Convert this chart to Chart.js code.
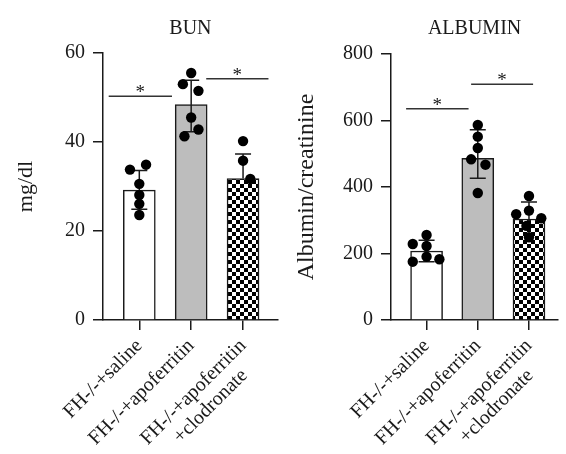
<!DOCTYPE html>
<html>
<head>
<meta charset="utf-8">
<script src="https://cdn.jsdelivr.net/npm/chart.js@4.4.0/dist/chart.umd.min.js"></script>
<style>
  html, body { margin: 0; padding: 0; background: #fff; }
  #wrap { position: relative; width: 566px; height: 454px; }
  canvas { position: absolute; top: 0; }
  #bun { left: 0; }
  #alb { left: 283px; }
</style>
</head>
<body>
<div id="wrap">
  <canvas id="bun" width="283" height="454"></canvas>
  <canvas id="alb" width="283" height="454"></canvas>
</div>
<script>
// second line of the last label is padded so it sits centred under the first
const groups = ['FH-/-+saline', 'FH-/-+apoferritin', ['FH-/-+apoferritin', '+clodronate\u00a0\u00a0\u00a0\u00a0']];

// BUN panel
const bunMean = [29.2, 48.4, 31.8];
const bunHigh = [33.6, 53.9, 37.3];
const bunLow = [24.9, 42.3, 26.3];
const bunDots = [34.9, 33.8, 30.6, 28.1, 26.1, 23.6, 55.5, 53.0, 51.5, 45.5, 42.8, 41.3, 40.2, 35.8, 31.7];
const bunDotX = [0.13, -0.18, 0, 0, 0, 0, 1, 0.84, 1.14, 1, 1.14, 0.87, 2, 2, 2.14];
const bunTicks = [0, 20, 40, 60];

// ALBUMIN panel
const albMean = [207.5, 486, 303.7];
const albHigh = [239.7, 572, 355];
const albLow = [175, 426, 252];
const albDots = [255.6, 228.6, 222.6, 190.4, 182.6, 175.4, 586.5, 551.4, 517.3, 483.3, 467.1, 382, 373, 329, 318, 306, 283, 249];
const albDotX = [0, -0.27, 0, 0, 0.25, -0.27, 1, 1, 1, 0.87, 1.15, 1, 2, 2, 1.75, 2.24, 1.95, 2];
const albTicks = [0, 200, 400, 600, 800];

const FONT = 'Liberation Serif';
const INK = '#1a1a1a';

// black/white checkerboard for the third bar
function checker() {
  const c = document.createElement('canvas');
  c.width = 8; c.height = 8;
  const g = c.getContext('2d');
  g.fillStyle = '#fff'; g.fillRect(0, 0, 8, 8);
  g.fillStyle = '#000'; g.fillRect(0, 0, 4, 4); g.fillRect(4, 4, 4, 4);
  return g.createPattern(c, 'repeat');
}

const extras = {
  id: 'extras',
  afterDatasetDraw(chart, args, o) {
    if (args.index !== 1) return;
    const { ctx } = chart;
    const x = chart.scales.x, y = chart.scales.y;
    ctx.save();
    ctx.strokeStyle = INK;
    ctx.lineWidth = 1.5;
    o.mean.forEach((m, i) => {
      const px = x.getPixelForValue(i);
      const top = y.getPixelForValue(o.high[i]);
      const mid = y.getPixelForValue(m);
      const bot = y.getPixelForValue(o.low[i]);
      ctx.beginPath();
      ctx.moveTo(px, top); ctx.lineTo(px, mid);
      ctx.moveTo(px - 8, top); ctx.lineTo(px + 8, top);
      // lower whisker is lost in the checkerboard on the reference
      if (i !== 2) {
        ctx.moveTo(px, mid); ctx.lineTo(px, bot);
        ctx.moveTo(px - 8, bot); ctx.lineTo(px + 8, bot);
      }
      ctx.stroke();
    });
    ctx.restore();
  },
  afterDraw(chart, args, o) {
    const { ctx, chartArea } = chart;
    const x = chart.scales.x, y = chart.scales.y;
    ctx.save();
    ctx.fillStyle = INK;
    ctx.font = `20px "${FONT}"`;
    ctx.textAlign = 'center';
    ctx.textBaseline = 'middle';
    ctx.fillText(o.title, (chartArea.left + chartArea.right) / 2, 29);

    ctx.strokeStyle = '#333';
    ctx.lineWidth = 1.5;
    o.sig.forEach(([a, b, v]) => {
      const x0 = x.getPixelForValue(a), x1 = x.getPixelForValue(b);
      const py = y.getPixelForValue(v);
      ctx.beginPath();
      ctx.moveTo(x0, py); ctx.lineTo(x1, py);
      ctx.stroke();
      ctx.font = `19px "${FONT}"`;
      ctx.fillText('*', (x0 + x1) / 2, py - 3);
    });
    ctx.restore();
  }
};

function makePanel(id, cfg) {
  return new Chart(document.getElementById(id), {
    type: 'bar',
    data: {
      datasets: [
        {
          type: 'scatter',
          data: cfg.dots.map((v, i) => ({ x: cfg.dotX[i], y: v })),
          backgroundColor: '#000',
          borderWidth: 0,
          pointRadius: 5.2
        },
        {
          type: 'bar',
          data: cfg.mean.map((v, i) => ({ x: i, y: v })),
          backgroundColor: ['#ffffff', '#bdbdbd', checker()],
          borderColor: INK,
          borderWidth: 1.5,
          barThickness: 32
        }
      ]
    },
    options: {
      responsive: false,
      animation: false,
      layout: { padding: { top: cfg.top, right: 2, left: 0, bottom: 0 } },
      plugins: {
        legend: { display: false },
        tooltip: { enabled: false },
        extras: { title: cfg.title, mean: cfg.mean, high: cfg.high, low: cfg.low, sig: cfg.sig }
      },
      scales: {
        x: {
          type: 'linear',
          min: cfg.xMin,
          max: cfg.xMax,
          offset: false,
          afterBuildTicks: s => { s.ticks = [0, 1, 2].map(v => ({ value: v })); },
          afterFit: s => { s.height = 134; },
          grid: { display: true, drawOnChartArea: false, offset: false, tickLength: 10, color: INK, lineWidth: 1.5 },
          border: { display: true, color: INK, width: 1.5 },
          ticks: {
            autoSkip: false,
            minRotation: 45,
            maxRotation: 45,
            padding: 5,
            color: INK,
            font: { family: FONT, size: 20, lineHeight: 1.1 },
            callback: v => groups[v]
          }
        },
        y: {
          min: 0,
          max: cfg.ticks[cfg.ticks.length - 1],
          afterBuildTicks: s => { s.ticks = cfg.ticks.map(v => ({ value: v })); },
          afterFit: s => { s.width = cfg.yWidth; },
          grid: { display: true, drawOnChartArea: false, tickLength: 10, color: INK, lineWidth: 1.5 },
          border: { display: true, color: INK, width: 1.5 },
          ticks: { padding: 8, color: INK, font: { family: FONT, size: 20 } },
          title: {
            display: true,
            text: cfg.yTitle,
            color: INK,
            font: { family: FONT, size: cfg.titleSize },
            padding: { top: cfg.titlePad, bottom: 0 }
          }
        }
      }
    },
    plugins: [extras]
  });
}

makePanel('bun', {
  title: 'BUN', yTitle: 'mg/dl', titleSize: 22,
  mean: bunMean, high: bunHigh, low: bunLow, dots: bunDots, dotX: bunDotX, ticks: bunTicks,
  xMin: -0.70, xMax: 2.67, yWidth: 103, top: 53, titlePad: 13,
  sig: [[-0.59, 0.63, 50.3], [1.29, 2.49, 54.2]]
});

makePanel('alb', {
  title: 'ALBUMIN', yTitle: 'Albumin/creatinine', titleSize: 24,
  mean: albMean, high: albHigh, low: albLow, dots: albDots, dotX: albDotX, ticks: albTicks,
  xMin: -0.695, xMax: 2.57, yWidth: 108, top: 54, titlePad: 9,
  sig: [[-0.4, 0.82, 635.5], [0.87, 2.08, 709]]
});
</script>
</body>
</html>
